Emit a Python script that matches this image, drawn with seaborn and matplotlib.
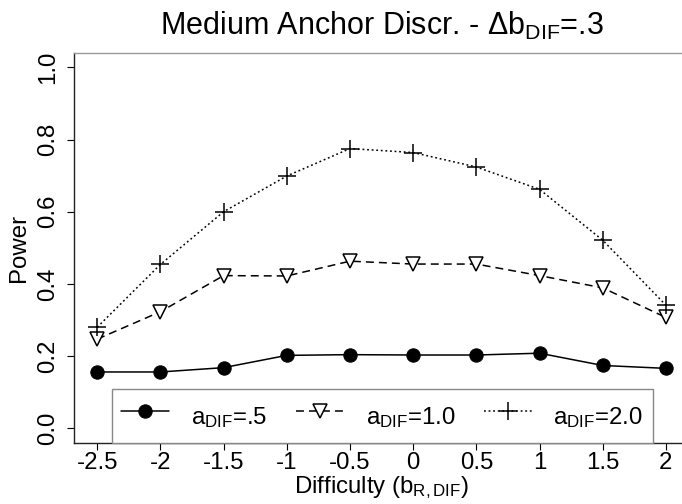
import matplotlib
matplotlib.use("Agg")
import matplotlib.pyplot as plt
import seaborn as sns
import pandas as pd

# ---- data ----
difficulty = [-2.5, -2.0, -1.5, -1.0, -0.5, 0.0, 0.5, 1.0, 1.5, 2.0]
power_a05 = [0.156, 0.156, 0.168, 0.202, 0.204, 0.203, 0.203, 0.208, 0.174, 0.166]
power_a10 = [0.247, 0.323, 0.423, 0.422, 0.463, 0.455, 0.455, 0.423, 0.389, 0.307]
power_a20 = [0.280, 0.454, 0.600, 0.699, 0.775, 0.764, 0.724, 0.662, 0.521, 0.341]
x_ticks = [-2.5, -2.0, -1.5, -1.0, -0.5, 0.0, 0.5, 1.0, 1.5, 2.0]
x_tick_labels = ["-2.5", "-2", "-1.5", "-1", "-0.5", "0", "0.5", "1", "1.5", "2"]
y_ticks = [0.0, 0.2, 0.4, 0.6, 0.8, 1.0]
y_tick_labels = ["0.0", "0.2", "0.4", "0.6", "0.8", "1.0"]
series_labels = [r"a$_{\mathrm{DIF}}$=.5", r"a$_{\mathrm{DIF}}$=1.0", r"a$_{\mathrm{DIF}}$=2.0"]
title = r"Medium Anchor Discr. - Δb$_{\mathrm{DIF}}$=.3"
x_label = r"Difficulty (b$_{\mathrm{R,DIF}}$)"
y_label = "Power"

sns.set_style("white")
plt.rcParams["font.family"] = ["Liberation Sans", "DejaVu Sans"]
plt.rcParams["mathtext.fontset"] = "custom"
plt.rcParams["mathtext.rm"] = "Liberation Sans"
plt.rcParams["mathtext.it"] = "Liberation Sans:italic"
plt.rcParams["mathtext.bf"] = "Liberation Sans:bold"
plt.rcParams["text.color"] = "black"
plt.rcParams["axes.labelcolor"] = "black"
plt.rcParams["xtick.color"] = "black"
plt.rcParams["ytick.color"] = "black"

df = pd.DataFrame({"x": difficulty, "a05": power_a05, "a10": power_a10, "a20": power_a20})

fig = plt.figure(figsize=(6.82, 5.04), dpi=100)
ax = fig.add_axes([0.1092, 0.1216, 0.9006, 0.7734])

lw = 1.1
sns.lineplot(data=df, x="x", y="a05", ax=ax, color="black", linewidth=lw,
             marker="o", markersize=9.6, markerfacecolor="black",
             markeredgecolor="black", label=series_labels[0])
sns.lineplot(data=df, x="x", y="a10", ax=ax, color="black", linewidth=lw,
             linestyle=(0, (5.2, 3.3)),
             marker="v", markersize=10.5, markerfacecolor="white",
             markeredgecolor="black", markeredgewidth=1.1, label=series_labels[1])
sns.lineplot(data=df, x="x", y="a20", ax=ax, color="black", linewidth=lw,
             linestyle=(0, (1.2, 1.8)),
             marker="+", markersize=12.5, markeredgecolor="black",
             markeredgewidth=1.1, label=series_labels[2])

ax.set_xlim(-2.68, 2.18)
ax.set_ylim(-0.04, 1.04)
ax.set_xticks(x_ticks)
ax.set_xticklabels(x_tick_labels)
ax.set_yticks(y_ticks)
ax.set_yticklabels(y_tick_labels, rotation=90, va="center")

fs = 17.3
ax.tick_params(axis="x", direction="out", length=5, width=0.8, colors="black",
               labelsize=fs, pad=1.5, bottom=True)
ax.tick_params(axis="y", direction="out", length=5, width=0.8, colors="black",
               labelsize=fs, pad=6, left=True)

for side in ["left", "bottom"]:
    ax.spines[side].set_color("#222222")
    ax.spines[side].set_linewidth(1.0)
ax.spines["top"].set_color("#999999")
ax.spines["top"].set_linewidth(1.0)
ax.spines["right"].set_visible(False)

ax.set_xlabel(x_label, fontsize=fs, labelpad=0, color="black")
ax.set_ylabel(y_label, fontsize=fs, labelpad=5, color="black")
ax.set_title(title, fontsize=22, pad=13, color="black")

handles, labels = ax.get_legend_handles_labels()
leg = ax.legend(handles, labels, loc="lower left", mode="expand",
                bbox_to_anchor=(0.0606, 0.0, 0.8808, 0.16), ncol=3,
                fontsize=fs, frameon=True, fancybox=False, borderaxespad=0,
                handlelength=2.0, handletextpad=0.9, handleheight=1.8,
                borderpad=0.4, numpoints=1, labelcolor="black")
frame = leg.get_frame()
frame.set_edgecolor("#888888")
frame.set_linewidth(1.0)
frame.set_facecolor("white")
frame.set_alpha(1.0)

fig.savefig("out.png", dpi=100)
